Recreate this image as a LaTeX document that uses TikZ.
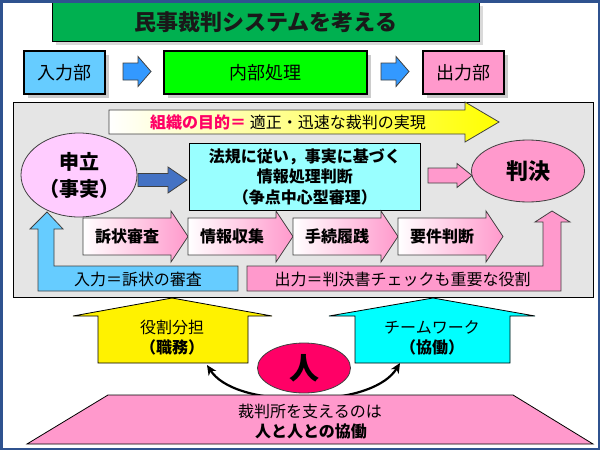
\documentclass[tikz,border=0pt]{standalone}
\usepackage{fontspec}
\setmainfont{Noto Sans CJK JP}
\usetikzlibrary{arrows.meta,shapes.geometric,shadows,calc}
\definecolor{framecol}{RGB}{47,82,143}
\definecolor{titlegreen}{RGB}{0,176,80}
\definecolor{inblue}{RGB}{102,204,255}
\definecolor{ingreen}{RGB}{0,255,0}
\definecolor{pinkc}{RGB}{255,153,204}
\definecolor{lpink}{RGB}{255,204,255}
\definecolor{panelgray}{RGB}{229,229,229}
\definecolor{arrblue}{RGB}{51,153,255}
\definecolor{darkblue}{RGB}{68,114,196}
\definecolor{lcyan}{RGB}{153,255,255}
\definecolor{cyanc}{RGB}{0,255,255}
\definecolor{hitored}{RGB}{255,0,102}
\definecolor{edgegray}{RGB}{64,64,64}
\newcommand\myRarrow[7]{\path[#7] ({#1},{#3-#4}) -- ({#2-#6},{#3-#4}) -- ({#2-#6},{#3-#5}) -- ({#2},{#3}) -- ({#2-#6},{#3+#5}) -- ({#2-#6},{#3+#4}) -- ({#1},{#3+#4}) -- cycle;}
\newcommand\fs[2]{\fontsize{#1pt}{#2pt}\selectfont}
\begin{document}
\begin{tikzpicture}[x=1pt,y=-1pt,
  topbox/.style={draw=black,line width=2.2pt,inner sep=0pt,anchor=north west,minimum height=43pt,
    font=\fs{18}{22},drop shadow={shadow xshift=4pt,shadow yshift=-4pt,fill=black!20,opacity=1}},
  smallarr/.style={fill=arrblue,draw=edgegray,line width=0.8pt},
  chev/.style={left color=white,right color=pinkc,draw=edgegray,line width=0.8pt},
  chevtext/.style={font=\fs{16}{20}\bfseries},
  bartext/.style={font=\fs{16}{20}},
  curvearrow/.style={line width=2.2pt,-{Stealth[length=10pt,width=9pt,inset=3pt]}},
]
\useasboundingbox (0,0) rectangle (600,450);
\fill[white] (0,0) rectangle (600,450);

% title
\fill[black!15] (56,6) rectangle (483,45);
\node[draw=black,line width=0.8pt,fill=titlegreen,inner sep=0pt,anchor=north west,
  minimum width=427pt,minimum height=39pt,font=\fs{22}{26}\bfseries,text=black!90] (title) at (52,2) {民事裁判システムを考える};

% top row
\node[topbox,fill=inblue,minimum width=81pt] (inp) at (23,50) {入力部};
\node[topbox,fill=ingreen,minimum width=203pt] (inner) at (163,50) {内部処理};
\node[topbox,fill=pinkc,minimum width=81pt] (outp) at (422,50) {出力部};
\myRarrow{123}{151}{71.5}{8.5}{15}{13}{smallarr}
\myRarrow{381}{409}{71.5}{8.5}{15}{13}{smallarr}

% panel
\path[fill=panelgray,draw=black,line width=0.8pt] (13,102) rectangle (593,297);

% goal arrow
\myRarrow{109}{499}{122}{12}{20}{34}{left color=white,right color=yellow,draw=edgegray,line width=0.8pt}
\node[anchor=west,inner sep=0pt,font=\fs{16}{20}] (goal) at (150,122)
  {\textcolor{hitored}{\bfseries 組織の目的＝} 適正・迅速な裁判の実現};

% claim ellipse
\node[ellipse,draw=edgegray,line width=0.8pt,fill=lpink,minimum width=116pt,minimum height=84pt,
  inner sep=0pt,align=center,font=\fs{20}{27}\bfseries] (claim) at (79,175) {申立\\（事実）};

% blue arrow
\myRarrow{138}{187}{180}{6.5}{13}{19}{fill=darkblue,draw=edgegray,line width=0.8pt}

% processing box
\node[draw=black,line width=0.8pt,fill=lcyan,anchor=north west,minimum width=231pt,minimum height=67pt,
  inner sep=0pt,align=center,font=\fs{16}{20.5}\bfseries] (proc) at (189,143)
  {法規に従い，事実に基づく\\情報処理判断\\（争点中心型審理）};

% pink arrow
\myRarrow{428}{472}{175.5}{7.5}{12}{15}{fill=pinkc,draw=edgegray,line width=0.8pt}

% judgement ellipse
\node[ellipse,draw=edgegray,line width=0.8pt,fill=pinkc,minimum width=113pt,minimum height=62pt,
  inner sep=0pt,font=\fs{22}{26}\bfseries] (judg) at (528,171) {判決};

% chevrons
\myRarrow{83}{188}{236.5}{18.5}{25.5}{17}{chev}
\myRarrow{188}{293}{236.5}{18.5}{25.5}{17}{chev}
\myRarrow{293}{398}{236.5}{18.5}{25.5}{17}{chev}
\myRarrow{398}{503}{236.5}{18.5}{25.5}{17}{chev}
\node[chevtext] (c1) at (127,236.5) {訴状審査};
\node[chevtext] (c2) at (232,236.5) {情報収集};
\node[chevtext] (c3) at (337,236.5) {手続履践};
\node[chevtext] (c4) at (442,236.5) {要件判断};

% input bar
\path[fill=inblue,draw=edgegray,line width=0.8pt] (38,291) -- (238,291) -- (238,266) -- (54,266) -- (54,229) -- (63,229) -- (47,212) -- (30,229) -- (38,229) -- cycle;
\node[bartext] (inbar) at (138,279) {入力＝訴状の審査};

% output bar
\path[fill=pinkc,draw=edgegray,line width=0.8pt] (247,291) -- (561,291) -- (561,222) -- (570,222) -- (552,211) -- (535,222) -- (543,222) -- (543,266) -- (247,266) -- cycle;
\node[bartext,anchor=west] (outbar) at (271,279) {出力＝判決書チェックも重要な役割};

% bottom up-arrows
\path[fill=yellow,draw=black,line width=0.8pt] (98,363) -- (248,363) -- (248,316) -- (272,316) -- (172,298) -- (73,316) -- (98,316) -- cycle;
\node[align=center,font=\fs{16}{20},inner sep=0pt] (role) at (172,338) {役割分担\\{\bfseries （職務）}};
\path[fill=cyanc,draw=black,line width=0.8pt] (355,363) -- (510,363) -- (510,316) -- (535,316) -- (433,298) -- (329,316) -- (355,316) -- cycle;
\node[align=center,font=\fs{16}{20},inner sep=0pt] (team) at (432,338) {チームワーク\\{\bfseries （協働）}};

% curved arrows
\coordinate (arcbot) at (304,399);
\coordinate (lefttip) at (207,365);
\coordinate (righttip) at (400,363);
\draw[curvearrow] (arcbot) .. controls (255,399) and (222,388) .. (lefttip);
\draw[curvearrow] (arcbot) .. controls (353,399) and (386,386) .. (righttip);

% base trapezoid
\path[fill=pinkc,draw=black,line width=0.8pt] (108,395) -- (513,395) -- (593,444) -- (27,444) -- cycle;
\node[font=\fs{16}{20}] (base1) at (310,411) {裁判所を支えるのは};
\node[font=\fs{16}{20}\bfseries] (base2) at (311,431) {人と人との協働};

% person ellipse
\node[ellipse,draw=edgegray,line width=0.8pt,fill=hitored,minimum width=93pt,minimum height=50pt,
  inner sep=0pt,font=\fs{30}{34}\bfseries] (hito) at (304,368) {人};

% frame
\draw[framecol,line width=2.5pt] (1.25,1.25) rectangle (598.75,448.75);
\end{tikzpicture}
\end{document}
